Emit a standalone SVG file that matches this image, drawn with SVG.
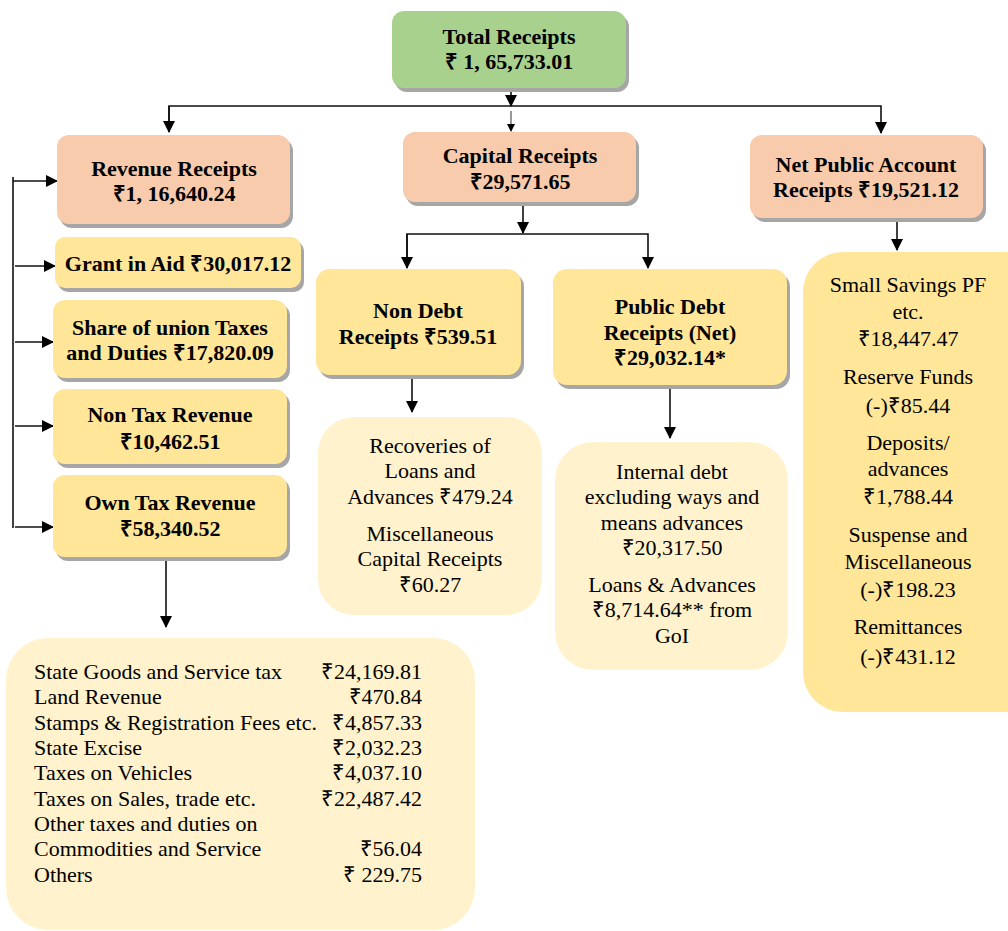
<svg xmlns="http://www.w3.org/2000/svg" width="1008" height="931" viewBox="0 0 1008 931">
<style>
.b{font-family:"Liberation Serif","Times New Roman",serif;font-weight:bold;font-size:22px;fill:#000;text-anchor:middle}
.r{font-family:"Liberation Serif","Times New Roman",serif;font-size:22px;fill:#000;text-anchor:middle}
.t{font-family:"Liberation Serif","Times New Roman",serif;font-size:22px;fill:#000}
.v{text-anchor:end}
.sh{fill:#A6A6A6}
.g{fill:#A9D18E}
.p{fill:#F8CBAD}
.y{fill:#FFE699}
.l{fill:#FFF2CC}
.c{stroke:#111;stroke-width:1.6;fill:none}
</style>
<defs>
<marker id="ah" markerUnits="userSpaceOnUse" markerWidth="12" markerHeight="14" refX="11" refY="6" orient="auto">
<path d="M0,0 L12,6 L0,12 Z" fill="#000"/>
</marker>
<marker id="as" markerUnits="userSpaceOnUse" markerWidth="8" markerHeight="8" refX="7" refY="4" orient="auto">
<path d="M0,0 L8,4 L0,8 Z" fill="#000"/>
</marker>
</defs>

<g id="connectors">
<path class="c" d="M511,88 V106" marker-end="url(#ah)"/>
<path class="c" d="M169,132 V106 H881 V133" marker-end="url(#ah)"/>
<path class="c" d="M169,106 V132" marker-end="url(#ah)"/>
<path d="M511,111 V131" stroke="#333" stroke-width="1" fill="none" marker-end="url(#as)"/>
<path class="c" d="M13,177 V528"/>
<path class="c" d="M13,181 H57" marker-end="url(#ah)"/>
<path class="c" d="M15,266 H55" marker-end="url(#ah)"/>
<path class="c" d="M15,342 H53" marker-end="url(#ah)"/>
<path class="c" d="M15,426 H53" marker-end="url(#ah)"/>
<path class="c" d="M15,527 H53" marker-end="url(#ah)"/>
<path class="c" d="M166,560 V627" marker-end="url(#ah)"/>
<path class="c" d="M523,203 V233" marker-end="url(#ah)"/>
<path class="c" d="M407,268 V234 H648 V268" marker-end="url(#ah)"/>
<path class="c" d="M407,234 V268" marker-end="url(#ah)"/>
<path class="c" d="M412,377 V412" marker-end="url(#ah)"/>
<path class="c" d="M670,387 V438" marker-end="url(#ah)"/>
<path class="c" d="M897,220 V250" marker-end="url(#ah)"/>
</g>

<g id="total">
<rect class="sh" x="395" y="15" width="234" height="77" rx="12"/>
<rect class="g" x="392" y="11" width="234" height="77" rx="12"/>
<text class="b" x="509" y="44">Total Receipts</text>
<text class="b" x="509" y="69">₹ 1, 65,733.01</text>
</g>

<g id="revenue">
<rect class="sh" x="60" y="139" width="233" height="89" rx="12"/>
<rect class="p" x="57" y="135" width="233" height="89" rx="12"/>
<text class="b" x="174" y="176">Revenue Receipts</text>
<text class="b" x="174" y="201">₹1, 16,640.24</text>
</g>

<g id="capital">
<rect class="sh" x="406" y="136" width="233" height="70" rx="12"/>
<rect class="p" x="403" y="132" width="233" height="70" rx="12"/>
<text class="b" x="520" y="163">Capital Receipts</text>
<text class="b" x="520" y="189">₹29,571.65</text>
</g>

<g id="netpublic">
<rect class="sh" x="753" y="139" width="233" height="83" rx="12"/>
<rect class="p" x="750" y="135" width="233" height="83" rx="12"/>
<text class="b" x="866" y="172">Net Public Account</text>
<text class="b" x="866" y="197">Receipts ₹19,521.12</text>
</g>

<g id="grant">
<rect class="sh" x="58" y="241" width="246" height="51" rx="10"/>
<rect class="y" x="55" y="237" width="246" height="51" rx="10"/>
<text class="b" x="178" y="271">Grant in Aid ₹30,017.12</text>
</g>

<g id="share">
<rect class="sh" x="56" y="304" width="234" height="78" rx="12"/>
<rect class="y" x="53" y="300" width="234" height="78" rx="12"/>
<text class="b" x="170" y="335">Share of union Taxes</text>
<text class="b" x="170" y="360">and Duties ₹17,820.09</text>
</g>

<g id="nontax">
<rect class="sh" x="56" y="393" width="234" height="75" rx="12"/>
<rect class="y" x="53" y="389" width="234" height="75" rx="12"/>
<text class="b" x="170" y="422">Non Tax Revenue</text>
<text class="b" x="170" y="449">₹10,462.51</text>
</g>

<g id="owntax">
<rect class="sh" x="56" y="479" width="234" height="82" rx="12"/>
<rect class="y" x="53" y="475" width="234" height="82" rx="12"/>
<text class="b" x="170" y="510">Own Tax Revenue</text>
<text class="b" x="170" y="536">₹58,340.52</text>
</g>

<g id="owntax-detail">
<rect class="l" x="6" y="638" width="469" height="292" rx="42"/>
<text class="t" x="34" y="679">State Goods and Service tax</text>
<text class="t v" x="422" y="679">₹24,169.81</text>
<text class="t" x="34" y="704">Land Revenue</text>
<text class="t v" x="422" y="704">₹470.84</text>
<text class="t" x="34" y="730">Stamps &amp; Registration Fees etc.</text>
<text class="t v" x="422" y="730">₹4,857.33</text>
<text class="t" x="34" y="755">State Excise</text>
<text class="t v" x="422" y="755">₹2,032.23</text>
<text class="t" x="34" y="780">Taxes on Vehicles</text>
<text class="t v" x="422" y="780">₹4,037.10</text>
<text class="t" x="34" y="806">Taxes on Sales, trade etc.</text>
<text class="t v" x="422" y="806">₹22,487.42</text>
<text class="t" x="34" y="831">Other taxes and duties on</text>
<text class="t" x="34" y="856">Commodities and Service</text>
<text class="t v" x="422" y="856">₹56.04</text>
<text class="t" x="34" y="882">Others</text>
<text class="t v" x="422" y="882">₹ 229.75</text>
</g>

<g id="nondebt">
<rect class="sh" x="319" y="273" width="205" height="106" rx="14"/>
<rect class="y" x="316" y="269" width="205" height="106" rx="14"/>
<text class="b" x="418" y="318">Non Debt</text>
<text class="b" x="418" y="344">Receipts ₹539.51</text>
</g>

<g id="publicdebt">
<rect class="sh" x="556" y="273" width="234" height="116" rx="14"/>
<rect class="y" x="553" y="269" width="234" height="116" rx="14"/>
<text class="b" x="670" y="314">Public Debt</text>
<text class="b" x="670" y="340">Receipts (Net)</text>
<text class="b" x="670" y="365">₹29,032.14*</text>
</g>

<g id="nondebt-detail">
<rect class="l" x="318" y="417" width="224" height="198" rx="36"/>
<text class="r" x="430" y="453">Recoveries of</text>
<text class="r" x="430" y="478">Loans and</text>
<text class="r" x="430" y="504">Advances ₹479.24</text>
<text class="r" x="430" y="541">Miscellaneous</text>
<text class="r" x="430" y="566">Capital Receipts</text>
<text class="r" x="430" y="592">₹60.27</text>
</g>

<g id="publicdebt-detail">
<rect class="l" x="555" y="442" width="233" height="228" rx="38"/>
<text class="r" x="672" y="479">Internal debt</text>
<text class="r" x="672" y="504">excluding ways and</text>
<text class="r" x="672" y="530">means advances</text>
<text class="r" x="672" y="555">₹20,317.50</text>
<text class="r" x="672" y="592">Loans &amp; Advances</text>
<text class="r" x="672" y="617">₹8,714.64** from</text>
<text class="r" x="672" y="643">GoI</text>
</g>

<g id="netpublic-detail">
<rect class="y" x="803" y="252" width="240" height="460" rx="40"/>
<text class="r" x="908" y="292">Small Savings PF</text>
<text class="r" x="908" y="319">etc.</text>
<text class="r" x="908" y="346">₹18,447.47</text>
<text class="r" x="908" y="384">Reserve Funds</text>
<text class="r" x="908" y="413">(-)₹85.44</text>
<text class="r" x="908" y="450">Deposits/</text>
<text class="r" x="908" y="476">advances</text>
<text class="r" x="908" y="504">₹1,788.44</text>
<text class="r" x="908" y="542">Suspense and</text>
<text class="r" x="908" y="569">Miscellaneous</text>
<text class="r" x="908" y="597">(-)₹198.23</text>
<text class="r" x="908" y="634">Remittances</text>
<text class="r" x="908" y="664">(-)₹431.12</text>
</g>
</svg>
